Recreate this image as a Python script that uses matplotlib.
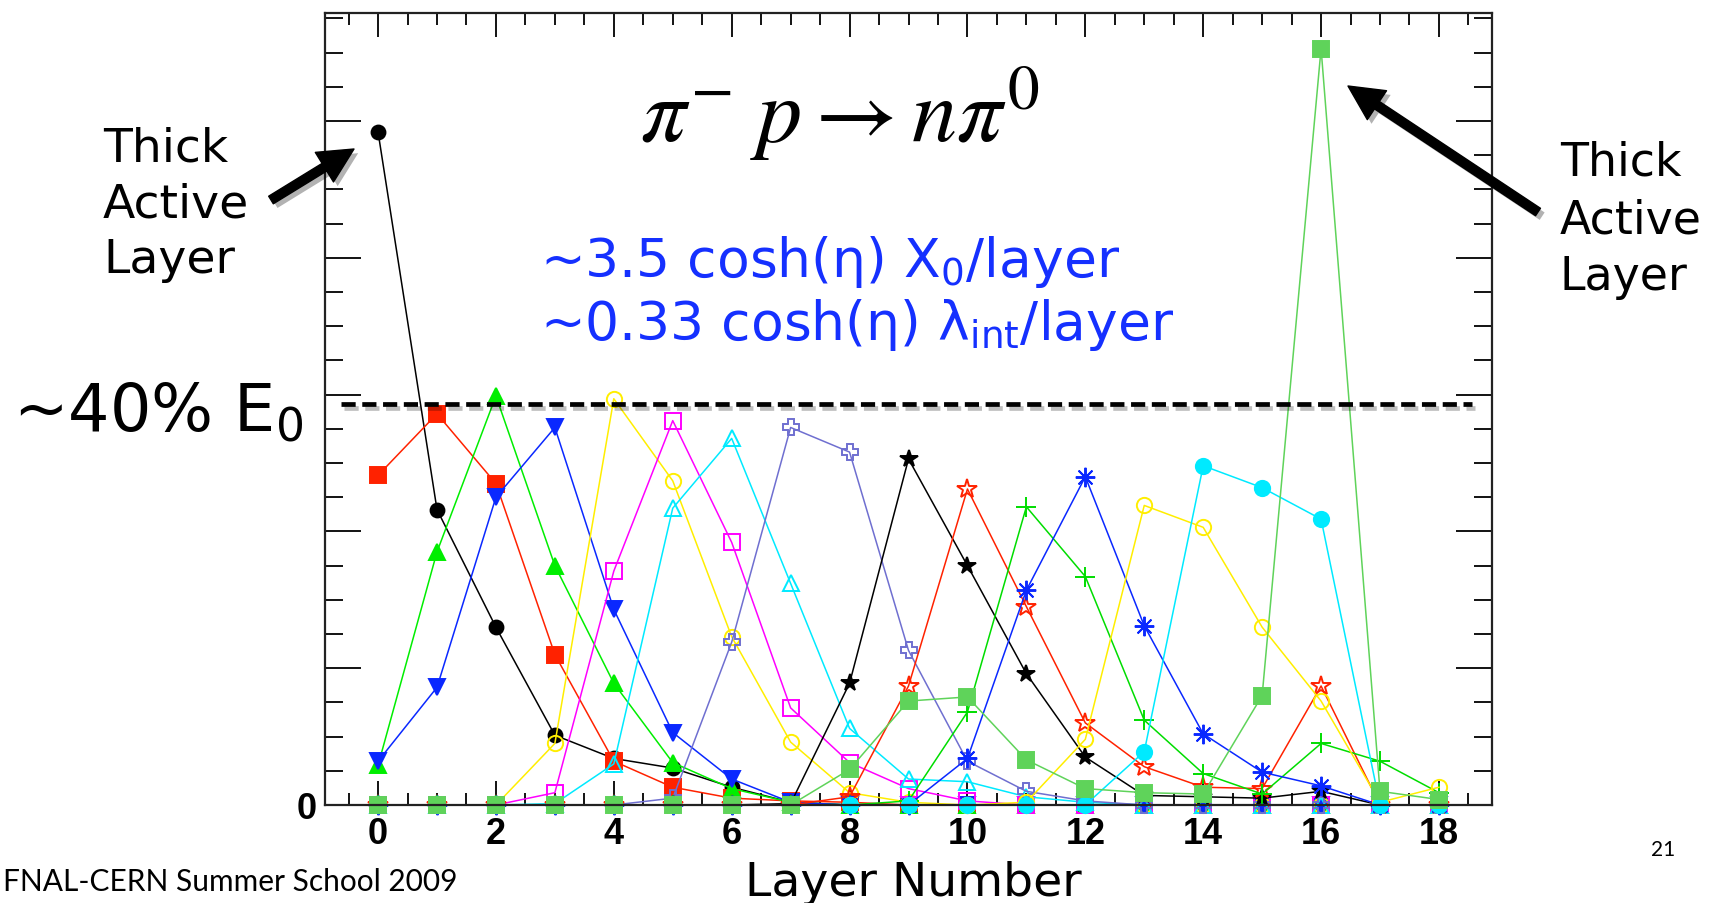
import numpy as np
import matplotlib.pyplot as plt
import matplotlib.patheffects as pe
from matplotlib.patches import FancyArrowPatch
from matplotlib.ticker import MultipleLocator

layers = np.arange(19)

# energy deposited per layer, one curve per shower (arbitrary units)
black_circ   = [49.2, 21.6, 13.0, 5.1, 3.4, 2.7, 1.3, 0.2, 0, 0, 0, 0, 0, 0, 0, 0, 0, 0, 0]
red_sq       = [24.1, 28.6, 23.5, 11.0, 3.2, 1.3, 0.5, 0.3, 0.2, 0, 0, 0, 0, 0, 0, 0, 0, 0, 0]
green_tri    = [2.9, 18.5, 29.9, 17.5, 8.9, 3.1, 1.2, 0.2, 0, 0, 0, 0, 0, 0, 0, 0, 0, 0, 0]
blue_tri     = [3.2, 8.6, 22.5, 27.6, 14.3, 5.3, 1.9, 0.2, 0, 0, 0, 0, 0, 0, 0, 0, 0, 0, 0]
yellow_circ  = [0, 0, 0, 4.5, 29.7, 23.7, 12.3, 4.6, 0.9, 0.2, 0, 0, 0, 0, 0, 0, 0, 0, 0]
magenta_sq   = [0, 0, 0, 0.9, 17.1, 28.1, 19.2, 7.1, 3.1, 1.2, 0.3, 0, 0, 0, 0, 0, 0, 0, 0]
cyan_tri     = [0, 0, 0, 0.1, 3.0, 21.7, 26.8, 16.2, 5.6, 1.9, 1.7, 0.6, 0.2, 0, 0, 0, 0, 0, 0]
slate_cross  = [0, 0, 0, 0, 0, 0.5, 11.9, 27.6, 25.8, 11.3, 3.2, 1.0, 0.3, 0, 0, 0, 0, 0, 0]
black_star   = [0, 0, 0, 0, 0, 0, 0, 0.1, 8.9, 25.3, 17.5, 9.6, 3.5, 0.7, 0.6, 0.5, 1.0, 0, 0]
red_star     = [0, 0, 0, 0, 0, 0, 0, 0, 0.6, 8.7, 23.1, 14.5, 6.0, 2.8, 1.3, 1.2, 8.7, 0, 0]
green_plus   = [0, 0, 0, 0, 0, 0, 0, 0, 0, 0.3, 6.8, 21.8, 16.7, 6.2, 2.3, 0.8, 4.5, 3.2, 0.9]
blue_ast     = [0, 0, 0, 0, 0, 0, 0, 0, 0, 0, 3.4, 15.7, 24.0, 13.1, 5.2, 2.4, 1.4, 0, 0]
yellow_circ2 = [0, 0, 0, 0, 0, 0, 0, 0, 0, 0, 0, 0.2, 4.8, 21.9, 20.3, 13.0, 7.6, 0.2, 1.3]
cyan_dot     = [0, 0, 0, 0, 0, 0, 0, 0, 0, 0, 0, 0, 0, 3.9, 24.8, 23.2, 20.9, 0, 0]
lgreen_sq    = [0, 0, 0, 0, 0, 0, 0, 0, 2.6, 7.6, 7.9, 3.3, 1.2, 0.9, 0.8, 8.0, 55.3, 1.0, 0.4]

forty_pct_level = 29.3
forty_pct_span = (-0.63, 18.56)

# (values, colour, marker, size, filled)
series = [
    (black_circ, 'black', 'o', 10, True),
    (red_sq, '#ff2200', 's', 12, True),
    (green_tri, '#00ee00', '^', 12, True),
    (blue_tri, '#0a28ff', 'v', 12, True),
    (yellow_circ, '#ffee00', 'o', 11, False),
    (magenta_sq, '#ff00ff', 's', 11, False),
    (cyan_tri, '#00eaff', '^', 12, False),
    (slate_cross, '#6f6fd0', 'P', 12, False),
    (black_star, 'black', '*', 13, True),
    (red_star, '#ff2200', '*', 15, False),
    (green_plus, '#00dd00', '+', 15, False),
    (blue_ast, '#0a28ff', (8, 2, 0), 14, False),
    (yellow_circ2, '#ffee00', 'o', 11, False),
    (cyan_dot, '#00eaff', 'o', 11, True),
    (lgreen_sq, '#5fd35a', 's', 12, True),
]

W, H = 1723, 904
fig = plt.figure(figsize=(W / 100, H / 100), dpi=100)
ax = fig.add_axes([325 / W, 98 / H, 1167 / W, 792 / H])

for vals, col, mk, ms, filled in series:
    ax.plot(layers, vals, color=col, lw=1.1, marker=mk, ms=ms,
            mfc=col if filled else 'none', mec=col, mew=1.4, clip_on=False)

ax.plot(forty_pct_span, [forty_pct_level] * 2, color='black', lw=3.4,
        dashes=(3.0, 1.4), clip_on=False,
        path_effects=[pe.SimpleLineShadow(offset=(2, -3), alpha=0.25), pe.Normal()])

ax.set_xlim(-0.9, 18.9)
ax.set_ylim(0, 57.9)
ax.xaxis.set_major_locator(MultipleLocator(2))
ax.xaxis.set_minor_locator(MultipleLocator(0.5))
ax.yaxis.set_major_locator(MultipleLocator(10))
ax.yaxis.set_minor_locator(MultipleLocator(2.5))
ax.set_yticklabels(['0' if t == 0 else '' for t in ax.get_yticks()])

ax.tick_params(which='both', direction='in', top=True, right=True, width=1.3)
ax.xaxis.set_tick_params(which='major', length=17, pad=8)
ax.xaxis.set_tick_params(which='minor', length=8.5)
ax.yaxis.set_tick_params(which='major', length=26, pad=6)
ax.yaxis.set_tick_params(which='minor', length=13)
for lab in ax.get_xticklabels() + ax.get_yticklabels():
    lab.set_fontfamily('Liberation Sans')
    lab.set_fontweight('bold')
    lab.set_fontsize(26)
for s in ax.spines.values():
    s.set_linewidth(1.6)
    s.set_color('#222222')


def fx(px):
    return px / W


def fy(py):
    return 1 - py / H


txt = dict(family='DejaVu Sans', va='baseline')

for line, base in zip(['Thick', 'Active', 'Layer'], [162, 218, 273]):
    fig.text(fx(103), fy(base), line, fontsize=34, **txt)
for line, base in zip(['Thick', 'Active', 'Layer'], [175, 233, 290]):
    fig.text(fx(1560), fy(base), line, fontsize=33, **txt)

fig.text(fx(13), fy(432), '~40% E$_0$', fontsize=47, **txt)

fig.text(fx(840), fy(142), r'$\pi^{-}\;p \rightarrow n\pi^{0}$', fontsize=65,
         math_fontfamily='stix', ha='center', va='baseline')

fig.text(fx(540), fy(277), '~3.5 cosh(η) X$_0$/layer', fontsize=38.5,
         color='#1530ff', **txt)
fig.text(fx(540), fy(340), '~0.33 cosh(η) λ$_{\\mathrm{int}}$/layer', fontsize=38.5,
         color='#1530ff', **txt)

fig.text(fx(913), fy(896), 'Layer Number', fontsize=34, ha='center', **txt)
fig.text(fx(3), fy(891), 'FNAL-CERN Summer School 2009', fontsize=21.5,
         family='Lato', va='baseline')
fig.text(fx(1663), fy(850), '21', fontsize=15, family='Lato', ha='center', va='center')

arrow_kw = dict(arrowstyle='simple,head_length=1.25,head_width=1.25,tail_width=0.32',
                mutation_scale=20, color='black', transform=fig.transFigure,
                shrinkA=0, shrinkB=0,
                path_effects=[pe.withSimplePatchShadow(offset=(3, -3), alpha=0.3)])
fig.add_artist(FancyArrowPatch((fx(271), fy(201)), (fx(354), fy(150)), **arrow_kw))
fig.add_artist(FancyArrowPatch((fx(1538), fy(213)), (fx(1348), fy(87)), **arrow_kw))

fig.savefig('out.png', dpi=100)
